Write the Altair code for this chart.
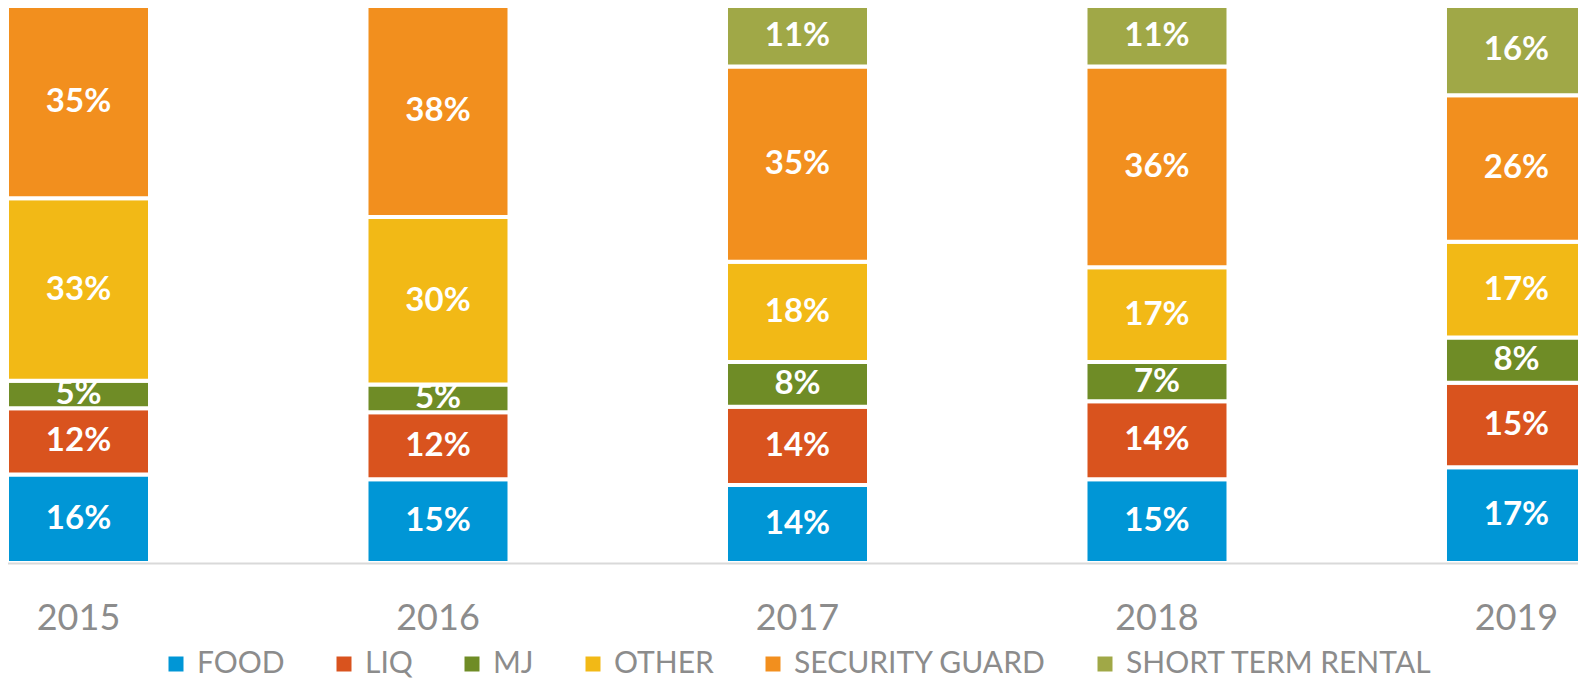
import altair as alt
import pandas as pd

years = ["2015", "2016", "2017", "2018", "2019"]
categories = ["FOOD", "LIQ", "MJ", "OTHER", "SECURITY GUARD", "SHORT TERM RENTAL"]
colors = ["#0096D6", "#D9531E", "#6F8C26", "#F2B916", "#F28F1E", "#A0A847"]

food = [16, 15, 14, 15, 17]
liq = [12, 12, 14, 14, 15]
mj = [5, 5, 8, 7, 8]
other = [33, 30, 18, 17, 17]
security_guard = [35, 38, 35, 36, 26]
short_term_rental = [None, None, 11, 11, 16]

series = [food, liq, mj, other, security_guard, short_term_rental]
rows = []
for ci, (cat, vals) in enumerate(zip(categories, series)):
    for y, v in zip(years, vals):
        if v is None:
            continue
        rows.append({"year": y, "category": cat, "order": ci, "value": v, "label": f"{v}%"})
df = pd.DataFrame(rows)

base = alt.Chart(df).transform_stack(
    stack="value", groupby=["year"], as_=["v0", "v1"], offset="normalize",
    sort=[alt.SortField("order", order="ascending")]
).transform_calculate(mid="(datum.v0 + datum.v1) / 2")

xenc = alt.X(
    "year:N",
    sort=years,
    scale=alt.Scale(range=[-1, 1580], paddingInner=0.6022, paddingOuter=0),
    axis=alt.Axis(
        title=None, labelAngle=0, labelFont="Lato", labelFontSize=36,
        labelColor="#8C8C8C", labelPadding=38, ticks=False,
        domainColor="#D9D9D9", domainWidth=2, zindex=1, labelBaseline="top",
        labelOverlap=False,
    ),
)

yscale = alt.Scale(domain=[0, 1], range=[555, -3])

bars = base.mark_bar(stroke="white", strokeWidth=4).encode(
    x=xenc,
    y=alt.Y("v0:Q", scale=yscale, axis=None),
    y2="v1:Q",
    color=alt.Color(
        "category:N",
        scale=alt.Scale(domain=categories, range=colors),
        legend=alt.Legend(
            title=None, orient="none", legendX=153, legendY=641,
            direction="horizontal",
            symbolType="square", symbolSize=225, symbolStrokeWidth=0,
            labelFont="Lato", labelFontSize=30, labelColor="#8C8C8C",
            labelOffset=6, columnPadding=44, labelLimit=0,
        ),
    ),
)

texts = base.mark_text(
    font="Lato", fontWeight="bold", fontSize=33, color="white", baseline="middle"
).encode(
    x=alt.X("year:N", sort=years),
    y=alt.Y("mid:Q", scale=yscale, axis=None),
    text="label:N",
)

chart = alt.layer(bars, texts).properties(
    width=1570, height=555,
    autosize=alt.AutoSizeParams(type="none"),
    padding={"left": 0, "top": 0, "right": 0, "bottom": 115},
).configure_view(stroke=None)

chart.save("out.html", embed_options={"renderer": "svg", "actions": False})
